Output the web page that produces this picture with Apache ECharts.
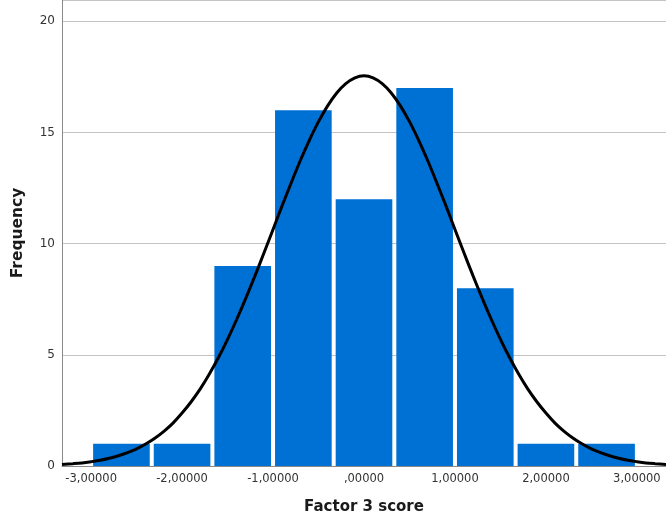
<!DOCTYPE html>
<html>
<head>
<meta charset="utf-8">
<script src="https://cdn.jsdelivr.net/npm/echarts@6/dist/echarts.min.js"></script>
<style>
html,body{margin:0;padding:0;background:#fff;}
#chart{width:666px;height:520px;}
</style>
</head>
<body>
<div id="chart"></div>
<script>
// Histogram bins (Factor 3 score) and frequencies
var binStarts = [-3.0, -2.3333, -1.6667, -1.0, -0.3333, 0.3333, 1.0, 1.6667, 2.3333];
var binEnds   = [-2.3333, -1.6667, -1.0, -0.3333, 0.3333, 1.0, 1.6667, 2.3333, 3.0];
var frequencies = [1, 1, 9, 16, 12, 17, 8, 1, 1];

// Normal curve (right half; the curve is symmetric about 0)
var curveHalfX = [0, 0.1, 0.2, 0.3, 0.4, 0.5, 0.6, 0.7, 0.8, 0.9, 1.0, 1.1, 1.2, 1.3, 1.4, 1.5, 1.6, 1.7,
                  1.8, 1.9, 2.0, 2.1, 2.2, 2.3, 2.4, 2.5, 2.6, 2.7, 2.8, 2.9, 3.0, 3.1, 3.2, 3.32];
var curveHalfY = [17.55, 17.46, 17.20, 16.78, 16.20, 15.49, 14.66, 13.74, 12.74, 11.71, 10.64, 9.58, 8.54,
                  7.54, 6.59, 5.70, 4.88, 4.14, 3.47, 2.89, 2.38, 1.93, 1.56, 1.25, 0.99, 0.77, 0.60, 0.46,
                  0.35, 0.26, 0.195, 0.14, 0.105, 0.071];

// Axis tick labels
var xTickValues = [-3, -2, -1, 0, 1, 2, 3];
var xTickLabels = ['-3,00000', '-2,00000', '-1,00000', ',00000', '1,00000', '2,00000', '3,00000'];

var barData = binStarts.map(function (s, i) { return [s, binEnds[i], frequencies[i]]; });
var curveData = [];
for (var i = curveHalfX.length - 1; i > 0; i--) curveData.push([-curveHalfX[i], curveHalfY[i]]);
for (var j = 0; j < curveHalfX.length; j++) curveData.push([curveHalfX[j], curveHalfY[j]]);

var chart = echarts.init(document.getElementById('chart'), null, {renderer: 'canvas'});
var font = 'DejaVu Sans';
chart.setOption({
  backgroundColor: '#ffffff',
  animation: false,
  grid: {left: 62, right: 0, top: -2, bottom: 52, containLabel: false},
  xAxis: {
    type: 'value',
    min: -3.32, max: 3.32,
    splitNumber: 6,
    name: 'Factor 3 score',
    nameLocation: 'middle',
    nameGap: 34,
    nameTextStyle: {fontFamily: font, fontWeight: 'bold', fontSize: 15, color: '#1a1a1a'},
    axisLine: {show: true, onZero: false, lineStyle: {color: '#8a8a8a', width: 1}},
    axisTick: {show: false},
    splitLine: {show: false},
    axisLabel: {
      fontFamily: font, fontSize: 11.5, color: '#333', margin: 7,
      showMinLabel: false, showMaxLabel: false,
      formatter: function (v) {
        for (var i = 0; i < xTickValues.length; i++) {
          if (Math.abs(v - xTickValues[i]) < 1e-6) return xTickLabels[i];
        }
        return '';
      }
    }
  },
  yAxis: {
    type: 'value',
    min: 0, max: 20.96, interval: 5,
    name: 'Frequency',
    nameLocation: 'middle',
    nameGap: 36,
    nameTextStyle: {fontFamily: font, fontWeight: 'bold', fontSize: 15.5, color: '#1a1a1a'},
    axisLine: {show: true, onZero: false, lineStyle: {color: '#8a8a8a', width: 1}},
    axisTick: {show: false},
    splitLine: {show: true, lineStyle: {color: '#c4c4c4', width: 1}},
    axisLabel: {
      fontFamily: font, fontSize: 12, color: '#333', margin: 7,
      formatter: function (v) { return (Math.abs(v % 5) < 1e-6) ? String(v) : ''; }
    }
  },
  series: [
    {
      type: 'custom',
      data: barData,
      encode: {x: [0, 1], y: 2},
      z: 2,
      renderItem: function (params, api) {
        var p0 = api.coord([api.value(0), api.value(2)]);
        var p1 = api.coord([api.value(1), 0]);
        return {
          type: 'rect',
          shape: {x: p0[0] + 2, y: p0[1], width: p1[0] - p0[0] - 4, height: p1[1] - p0[1]},
          style: {fill: '#0071d4'}
        };
      }
    },
    {
      type: 'line',
      data: curveData,
      smooth: 0.3,
      showSymbol: false,
      symbol: 'none',
      z: 5,
      lineStyle: {color: '#000', width: 3}
    }
  ]
});
</script>
</body>
</html>
